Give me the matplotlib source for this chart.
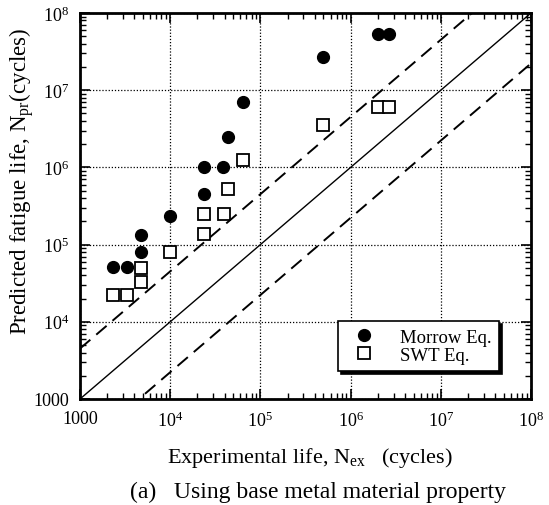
import matplotlib
matplotlib.use('Agg')
import matplotlib.pyplot as plt
import matplotlib.ticker as mticker
import numpy as np

# 实验寿命 vs 预测寿命 (Morrow / SWT)
morrow_x = [2.3e3, 3.3e3, 4.7e3, 4.7e3, 1.0e4, 2.4e4, 2.4e4, 3.85e4, 4.4e4, 6.4e4, 5.0e5, 2.0e6, 2.65e6]
morrow_y = [5.1e4, 5.1e4, 8.0e4, 1.35e5, 2.35e5, 4.5e5, 1.0e6, 1.0e6, 2.45e6, 7.1e6, 2.7e7, 5.4e7, 5.4e7]

swt_x = [2.3e3, 3.3e3, 4.7e3, 4.7e3, 1.0e4, 2.4e4, 2.4e4, 3.9e4, 4.4e4, 6.4e4, 5.0e5, 2.0e6, 2.65e6]
swt_y = [2.25e4, 2.25e4, 3.3e4, 5.0e4, 8.0e4, 1.38e5, 2.5e5, 2.5e5, 5.2e5, 1.26e6, 3.5e6, 6.0e6, 6.0e6]

band_factor = 4.5
life_range = [1e3, 1e8]

plt.rcParams['font.family'] = ['Liberation Serif', 'DejaVu Serif']
plt.rcParams['mathtext.fontset'] = 'custom'
plt.rcParams['mathtext.rm'] = 'Liberation Serif'
plt.rcParams['mathtext.it'] = 'Liberation Serif:italic'

fig = plt.figure(figsize=(5.49, 5.06), dpi=100)
ax = fig.add_axes([80 / 549, 1 - 400 / 506, 451 / 549, 386 / 506])

ax.set_xscale('log')
ax.set_yscale('log')
ax.set_xlim(life_range)
ax.set_ylim(life_range)

# 1:1 线和 ±倍数 分散带
line = np.array(life_range)
ax.plot(line, line, color='black', lw=1.0)
ax.plot(line, line * band_factor, color='black', lw=1.4, dashes=(7, 4))
ax.plot(line, line / band_factor, color='black', lw=1.4, dashes=(7, 4))

ax.plot(morrow_x, morrow_y, 'o', color='black', ms=8.5, label='Morrow Eq.', zorder=5)
ax.plot(swt_x, swt_y, 's', mfc='white', mec='black', mew=1.3, ms=8, label='SWT Eq.', zorder=5)

def fmt(v, pos):
    n = int(round(np.log10(v)))
    if n == 3:
        return '1000'
    return r'$10^{%d}$' % n

ax.xaxis.set_major_locator(mticker.LogLocator(base=10, numticks=10))
ax.yaxis.set_major_locator(mticker.LogLocator(base=10, numticks=10))
ax.xaxis.set_minor_locator(mticker.LogLocator(base=10, subs=np.arange(2, 10), numticks=20))
ax.yaxis.set_minor_locator(mticker.LogLocator(base=10, subs=np.arange(2, 10), numticks=20))
ax.xaxis.set_major_formatter(mticker.FuncFormatter(fmt))
ax.yaxis.set_major_formatter(mticker.FuncFormatter(fmt))
ax.xaxis.set_minor_formatter(mticker.NullFormatter())
ax.yaxis.set_minor_formatter(mticker.NullFormatter())

ax.tick_params(which='both', direction='in', top=True, right=True, labelsize=13, colors='black')
ax.tick_params(which='major', length=7, width=1.2, pad=8)
ax.tick_params(which='minor', length=4, width=1.0)
for s in ax.spines.values():
    s.set_linewidth(2.0)

ax.grid(True, which='major', color='black', linestyle=(0, (1, 1.5)), lw=0.9)

ax.set_xlabel(r'Experimental life, $\mathrm{N_{ex}}$   (cycles)', fontsize=16, va='center')
ax.xaxis.set_label_coords((310 - 80) / 451, (400 - 458) / 386)
ax.set_ylabel(r'Predicted fatigue life, $\mathrm{N_{pr}}$(cycles)', fontsize=16.5, va='center')
ax.yaxis.set_label_coords((22 - 80) / 451, (400 - 181) / 386)

leg = ax.legend(loc='upper left', bbox_to_anchor=((338 - 80) / 451, (400 - 322) / 386),
                borderaxespad=0, frameon=True, fancybox=False, edgecolor='black',
                fontsize=13.5, handlelength=2.0, handletextpad=0.9, borderpad=0.4,
                labelspacing=0.05, shadow={'color': 'black', 'alpha': 1.0})
leg.get_frame().set_linewidth(1.2)

fig.text(318 / 549, 1 - 492 / 506, '(a)   Using base metal material property',
         ha='center', va='center', fontsize=17)

fig.savefig('out.png', dpi=100)
